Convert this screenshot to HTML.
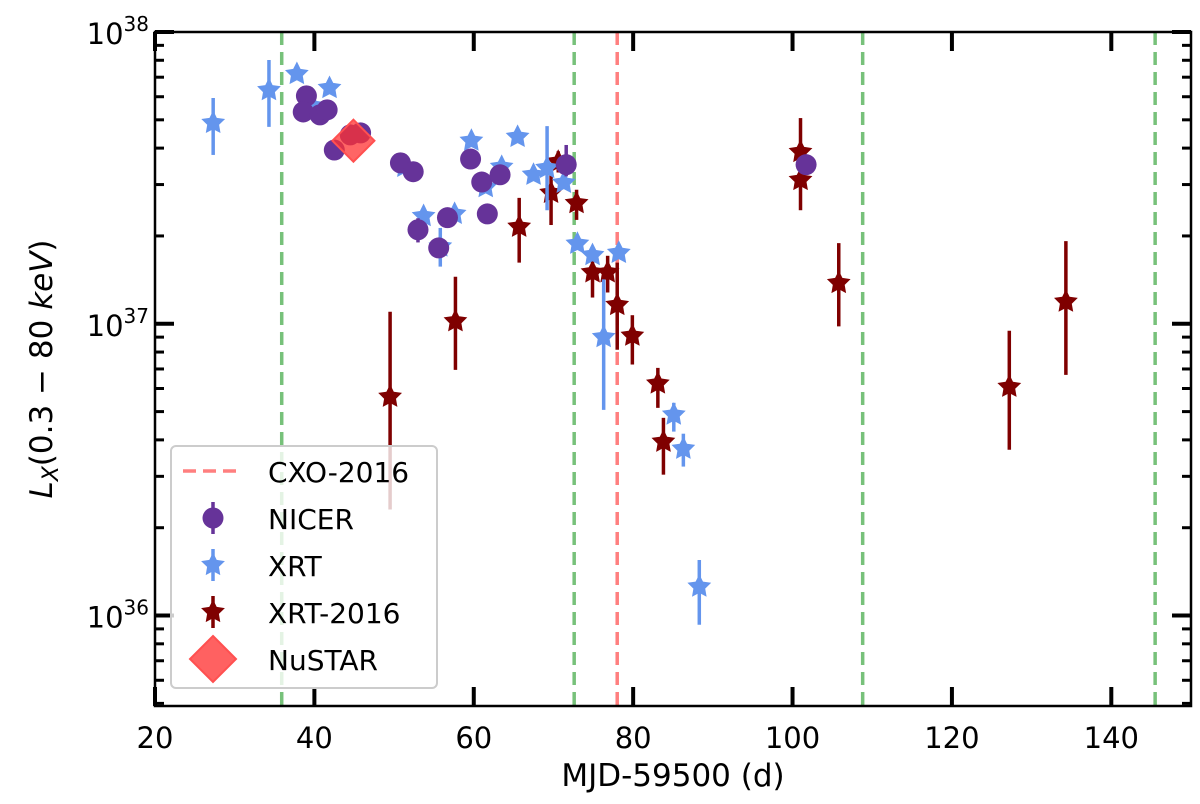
<!DOCTYPE html>
<html><head><meta charset="utf-8"><style>
html,body{margin:0;padding:0;background:#fff;}
svg{display:block;font-family:"DejaVu Sans","Liberation Sans",sans-serif;}
</style></head><body>
<svg id="chart" width="1200" height="804" viewBox="0 0 1200 804">
<g id="grid"></g>
<g id="marks"></g>
<g id="axes"></g>
<g id="legend"></g>
</svg>
<script>
// ---- data (L in units of 1e37 erg/s) ----
const nicerX = [39.0,38.6,40.7,41.6,42.5,44.5,45.8,50.8,52.4,59.6,61.0,63.3,61.7,71.6,53.0,56.7,55.6,101.7];
const nicerY = [6.04,5.32,5.2,5.41,3.94,4.44,4.51,3.56,3.32,3.67,3.06,3.24,2.38,3.51,2.10,2.31,1.82,3.51];
const nicerLo = [5.8,5.1,5.0,5.2,3.8,4.3,4.35,3.45,3.2,3.55,2.95,3.1,2.3,3.2,1.9,2.2,1.75,3.4];
const nicerHi = [6.3,5.5,5.4,5.6,4.1,4.6,4.65,3.7,3.45,3.8,3.2,3.35,2.45,4.1,2.3,2.4,1.9,3.6];

const xrtX = [27.3,34.3,37.8,41.9,39.8,51.3,59.7,65.5,63.5,61.5,53.7,57.6,55.8,67.5,69.2,71.3,73.0,74.9,78.2,76.3,85.1,86.3,88.3];
const xrtY = [4.88,6.32,7.18,6.43,5.58,3.45,4.24,4.37,3.45,2.94,2.34,2.38,1.84,3.24,3.42,3.04,1.88,1.72,1.75,0.90,0.488,0.373,0.1256];
const xrtLo = [3.79,4.73,7.0,6.3,5.4,3.35,4.1,4.25,3.35,2.85,2.25,2.3,1.57,3.1,2.45,2.9,1.8,1.65,1.68,0.507,0.427,0.324,0.093];
const xrtHi = [5.94,8.02,7.35,6.6,5.75,3.55,4.35,4.5,3.55,3.05,2.42,2.46,2.13,3.35,4.76,3.15,1.96,1.8,1.82,1.42,0.536,0.420,0.155];

const x16X = [49.5,57.7,65.7,69.7,72.9,70.6,74.9,76.8,78.0,79.9,83.1,83.8,101.0,101.0,105.8,127.2,134.3];
const x16Y = [0.562,1.02,2.15,2.81,2.59,3.59,1.50,1.50,1.16,0.91,0.624,0.394,3.88,3.11,1.38,0.608,1.19];
const x16Lo = [0.231,0.695,1.62,2.18,2.27,3.3,1.23,1.28,0.815,0.725,0.515,0.304,3.2,2.45,0.98,0.370,0.668];
const x16Hi = [1.10,1.45,2.70,3.24,2.88,3.9,1.70,1.71,1.62,1.07,0.706,0.476,5.07,4.0,1.89,0.946,1.92];

const nustarX = [44.9];
const nustarY = [4.24];

const greenLines = [35.9,72.6,108.8,145.5];
const redLines = [78.0];

const xTicks = [20,40,60,80,100,120,140];
const yTickExp = [36,37,38];

// ---- axes functions ----
const L=155,R=1191,T=32,B=706;
const xmin=20,xmax=150, lmin=35.69,lmax=38;
function sx(v){return L+(v-xmin)/(xmax-xmin)*(R-L);}
function sy(v){ const l=Math.log10(v)+37; return T+(lmax-l)/(lmax-lmin)*(B-T);}
function syExp(l){return T+(lmax-l)/(lmax-lmin)*(B-T);}
const NS="http://www.w3.org/2000/svg";
function el(tag,attrs,parent){const e=document.createElementNS(NS,tag);for(const k in attrs)e.setAttribute(k,attrs[k]);parent.appendChild(e);return e;}
function starPts(cx,cy,r){let p=[];for(let i=0;i<10;i++){const a=-Math.PI/2+i*Math.PI/5;const rr=i%2?r*0.5:r;p.push((cx+rr*Math.cos(a)).toFixed(1)+","+(cy+rr*Math.sin(a)).toFixed(1));}return p.join(" ");}

const grid=document.getElementById('grid'),marks=document.getElementById('marks'),axes=document.getElementById('axes'),legend=document.getElementById('legend');

greenLines.forEach(v=>{const l=el('line',{x1:sx(v),x2:sx(v),y1:T,y2:B,stroke:'#77c17a','stroke-width':3.5,'stroke-dasharray':'13,7'},grid);

});
redLines.forEach(v=>{const l=el('line',{x1:sx(v),x2:sx(v),y1:T,y2:B,stroke:'#ff7f7f','stroke-width':3.5,'stroke-dasharray':'13,7'},grid);

});

x16X.forEach((x,i)=>{const g=el('g',{},marks);


el('line',{x1:sx(x),x2:sx(x),y1:sy(x16Lo[i]),y2:sy(x16Hi[i]),stroke:'#7f0000','stroke-width':3.5},g);
el('polygon',{points:starPts(sx(x),sy(x16Y[i]),12.5),fill:'#7f0000'},g);});

xrtX.forEach((x,i)=>{const g=el('g',{},marks);


el('line',{x1:sx(x),x2:sx(x),y1:sy(xrtLo[i]),y2:sy(xrtHi[i]),stroke:'#6495ed','stroke-width':3.5},g);
el('polygon',{points:starPts(sx(x),sy(xrtY[i]),12.5),fill:'#6495ed'},g);});

nicerX.forEach((x,i)=>{const g=el('g',{},marks);


el('line',{x1:sx(x),x2:sx(x),y1:sy(nicerLo[i]),y2:sy(nicerHi[i]),stroke:'#663399','stroke-width':3.5},g);
el('circle',{cx:sx(x),cy:sy(nicerY[i]),r:10.5,fill:'#663399'},g);});

nustarX.forEach((x,i)=>{const cx=sx(x),cy=sy(nustarY[i]);const d=21;
const p=el('polygon',{points:`${cx},${cy-d} ${cx+d},${cy} ${cx},${cy+d} ${cx-d},${cy}`,fill:'rgba(255,50,50,0.75)',stroke:'#ff5050','stroke-width':2},marks);

});

const fr=el('rect',{x:L,y:T,width:R-L,height:B-T,fill:'none',stroke:'#000','stroke-width':2.5},axes);



xTicks.forEach(v=>{const x=sx(v);
el('line',{x1:x,x2:x,y1:B,y2:B-19,stroke:'#000','stroke-width':4},axes);
el('line',{x1:x,x2:x,y1:T,y2:T+19,stroke:'#000','stroke-width':4},axes);
const t=el('text',{x:x,y:B+42,'text-anchor':'middle','font-size':29,fill:'#000'},axes);t.textContent=v;

});

yTickExp.forEach(e=>{const y=syExp(e);
el('line',{x1:L,x2:L+19,y1:y,y2:y,stroke:'#000','stroke-width':4},axes);
el('line',{x1:R,x2:R-19,y1:y,y2:y,stroke:'#000','stroke-width':4},axes);
const t=el('text',{x:L-6,y:y+12,'text-anchor':'end','font-size':29,fill:'#000'},axes);


t.innerHTML='10<tspan dy="-13" font-size="20">'+e+'</tspan>';});
for(let e=35;e<38;e++){for(let m=2;m<10;m++){const l=e+Math.log10(m);if(l<lmin||l>lmax)continue;const y=syExp(l);
el('line',{x1:L,x2:L+9,y1:y,y2:y,stroke:'#000','stroke-width':3},axes);
el('line',{x1:R,x2:R-9,y1:y,y2:y,stroke:'#000','stroke-width':3},axes);}}

const xt=el('text',{x:(L+R)/2,y:786,'text-anchor':'middle','font-size':31,fill:'#000'},axes);xt.textContent='MJD-59500 (d)';


const yt=el('text',{x:0,y:0,'text-anchor':'middle','font-size':31,fill:'#000',transform:`translate(52,${(T+B)/2}) rotate(-90)`},axes);


yt.innerHTML='<tspan font-style="italic">L</tspan><tspan font-style="italic" font-size="22" dy="6">X</tspan><tspan dy="-6">(0.3 − 80 </tspan><tspan font-style="italic">keV</tspan><tspan>)</tspan>';

const lb=el('rect',{x:171,y:446,width:266,height:242,rx:5,fill:'rgba(255,255,255,0.8)',stroke:'#cccccc','stroke-width':2},legend);


const labels=['CXO-2016','NICER','XRT','XRT-2016','NuSTAR'];
const ly=[471,518,565,612,659];
labels.forEach((s,i)=>{const g=el('g',{},legend);


const cx=213,cy=ly[i];
if(i===0){el('line',{x1:183,x2:243,y1:cy,y2:cy,stroke:'#ff7f7f','stroke-width':3.5,'stroke-dasharray':'13,7'},g);}
if(i===1){el('line',{x1:cx,x2:cx,y1:cy-16,y2:cy+16,stroke:'#663399','stroke-width':3.5},g);el('circle',{cx:cx,cy:cy,r:10.5,fill:'#663399'},g);}
if(i===2){el('line',{x1:cx,x2:cx,y1:cy-16,y2:cy+16,stroke:'#6495ed','stroke-width':3.5},g);el('polygon',{points:starPts(cx,cy,12.5),fill:'#6495ed'},g);}
if(i===3){el('line',{x1:cx,x2:cx,y1:cy-16,y2:cy+16,stroke:'#7f0000','stroke-width':3.5},g);el('polygon',{points:starPts(cx,cy,12.5),fill:'#7f0000'},g);}
if(i===4){const d=23;el('polygon',{points:`${cx},${cy-d} ${cx+d},${cy} ${cx},${cy+d} ${cx-d},${cy}`,fill:'rgba(255,80,80,0.9)',stroke:'#ff5050','stroke-width':2},g);}
const t=el('text',{x:268,y:cy+11,'font-size':28,fill:'#000'},g);t.textContent=s;});
</script>
</body></html>
